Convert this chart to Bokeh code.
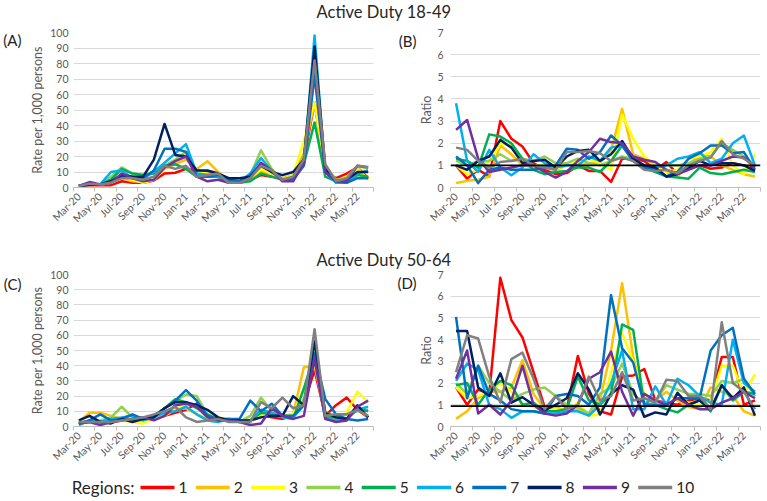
import math
from bokeh.plotting import figure
from bokeh.layouts import column, row
from bokeh.models import Range1d, FixedTicker, Span, LinearAxis
from bokeh.embed import file_html
from bokeh.resources import INLINE
from bokeh.core.properties import value

FONT = "Lato"

months = ["Mar-20", "Apr-20", "May-20", "Jun-20", "Jul-20", "Aug-20", "Sep-20", "Oct-20",
          "Nov-20", "Dec-20", "Jan-21", "Feb-21", "Mar-21", "Apr-21", "May-21", "Jun-21",
          "Jul-21", "Aug-21", "Sep-21", "Oct-21", "Nov-21", "Dec-21", "Jan-22", "Feb-22",
          "Mar-22", "Apr-22", "May-22", "Jun-22"]
regions = ["1", "2", "3", "4", "5", "6", "7", "8", "9", "10"]
colors = ["#FF0000", "#FFC000", "#FFFF00", "#92D050", "#00B050",
          "#00B0F0", "#0070C0", "#002060", "#7030A0", "#808080"]

title_top = "Active Duty 18-49"
title_bottom = "Active Duty 50-64"

# (A) Active Duty 18-49: rate per 1,000 persons, one list per region
rate_18_49 = [
    [1, 1.5, 1.5, 1.5, 4, 3, 3, 4.5, 9, 9.5, 12, 11, 10, 8, 4, 3, 5, 8, 7, 6, 6, 18, 55, 10, 6, 9, 13, 6],
    [1, 2, 2, 4, 6, 4, 3.5, 5, 12, 15, 18, 12, 17, 10, 4, 3, 5, 10, 9, 6, 8, 22, 55, 12, 4, 7, 13, 5],
    [1, 2, 2, 3, 6, 5, 3, 5, 14, 17, 22, 10, 9, 8, 3, 3, 6, 12, 9, 5, 8, 30, 55, 12, 4, 7, 12, 5],
    [1, 2, 2, 7, 13, 9, 8, 10, 14, 18, 23, 9, 8, 9, 4, 3, 8, 24, 12, 5, 7, 20, 75, 14, 5, 6, 14, 12],
    [1, 2, 2, 5, 12, 9, 8, 9, 14, 15, 12, 7, 7, 7, 3, 3, 4, 9, 7, 5, 6, 15, 42, 7, 4, 4, 8, 7],
    [1, 2, 2, 10, 11, 6, 6, 10, 16, 22, 28, 9, 8, 7, 5, 4, 9, 19, 11, 5, 5, 15, 98, 10, 3, 3, 9, 11],
    [1, 2, 2, 4, 7, 7, 6, 11, 25, 25, 23, 7, 7, 8, 5, 4, 8, 15, 10, 5, 5, 14, 72, 10, 4, 3, 6, 6],
    [1, 2, 2, 4, 8, 7, 7, 18, 41, 21, 20, 11, 11, 9, 6, 6, 7, 14, 10, 8, 10, 18, 91, 12, 4, 5, 10, 10],
    [1, 3.5, 2, 3, 9, 6, 4, 5, 13, 17, 20, 7, 4, 5, 3, 3, 6, 16, 11, 4, 4, 16, 82, 10, 4, 4, 14, 13],
    [1, 2.5, 2, 3, 6, 6, 5, 7, 14, 12, 14, 7, 8, 9, 3, 3, 6, 14, 11, 5, 7, 18, 82, 15, 4, 6, 14, 13],
]

# (B) Active Duty 18-49: ratio
ratio_18_49 = [
    [1.0, 0.4, 0.8, 0.5, 3.0, 2.2, 1.85, 1.1, 0.8, 0.6, 0.65, 1.0, 0.75, 0.75, 0.25, 1.3, 1.3, 1.2, 0.8, 1.15, 0.6, 0.85, 1.0, 0.85, 0.9, 1.1, 1.0, 0.9],
    [0.2, 0.3, 0.35, 0.5, 1.9, 1.5, 1.0, 0.9, 0.9, 0.8, 1.0, 1.0, 1.1, 1.1, 1.7, 3.55, 1.5, 1.3, 1.0, 0.7, 0.5, 1.0, 1.5, 1.4, 1.0, 0.8, 0.6, 0.5],
    [1.0, 0.6, 0.8, 1.2, 2.0, 1.9, 1.2, 1.0, 1.0, 0.8, 1.1, 1.1, 1.3, 1.1, 0.8, 3.3, 2.2, 1.4, 1.0, 0.7, 0.8, 1.3, 1.4, 1.6, 2.2, 1.0, 0.6, 1.5],
    [1.2, 1.0, 1.2, 1.2, 1.5, 1.2, 1.3, 1.2, 1.4, 1.1, 1.1, 1.3, 1.1, 1.0, 1.2, 1.4, 1.3, 1.0, 0.9, 1.0, 1.0, 1.1, 1.3, 1.4, 2.0, 1.7, 1.4, 1.0],
    [1.3, 1.2, 0.9, 2.4, 2.3, 2.0, 1.3, 0.8, 0.6, 0.7, 0.75, 0.9, 0.9, 0.7, 1.2, 1.9, 1.3, 0.9, 0.7, 0.5, 0.45, 0.4, 0.9, 0.65, 0.6, 0.7, 0.8, 0.7],
    [3.8, 1.2, 0.7, 1.7, 0.9, 0.55, 0.9, 1.5, 1.1, 0.9, 1.0, 1.0, 1.4, 1.2, 1.8, 1.9, 1.2, 1.0, 0.9, 1.0, 1.3, 1.4, 1.6, 1.1, 1.3, 2.0, 2.35, 1.0],
    [1.4, 1.0, 0.2, 0.8, 0.9, 0.8, 0.8, 0.8, 0.9, 1.0, 1.75, 1.7, 1.3, 1.6, 2.35, 1.9, 1.2, 0.9, 0.8, 0.5, 0.7, 1.3, 1.55, 1.9, 1.9, 1.55, 1.6, 0.8],
    [1.0, 0.8, 1.2, 1.4, 2.15, 1.8, 1.1, 1.2, 1.25, 0.9, 1.4, 1.65, 1.7, 1.2, 1.5, 2.1, 1.3, 1.0, 0.9, 0.5, 0.6, 0.9, 1.2, 1.0, 1.1, 1.1, 1.0, 0.75],
    [2.6, 3.05, 1.3, 0.7, 0.8, 0.9, 1.0, 1.0, 0.7, 0.45, 0.7, 1.2, 1.6, 2.2, 2.05, 2.0, 1.4, 1.25, 1.15, 0.8, 0.6, 0.8, 1.0, 1.0, 1.2, 1.4, 1.35, 0.9],
    [1.8, 1.7, 1.2, 0.9, 1.15, 1.2, 1.3, 1.0, 0.9, 0.8, 1.6, 1.6, 1.65, 1.55, 1.2, 1.35, 1.2, 0.8, 0.75, 0.8, 0.65, 1.0, 1.2, 1.35, 2.1, 1.5, 1.3, 1.0],
]

# (C) Active Duty 50-64: rate per 1,000 persons
rate_50_64 = [
    [2, 4, 3, 3, 4, 4, 5, 5, 7, 9, 11, 15, 6, 5, 4, 4, 3, 8, 6, 5, 7, 15, 37, 7, 14, 19, 11, 6],
    [3, 9, 9, 7, 5, 4, 4, 5, 7, 11, 12, 8, 5, 5, 5, 3, 4, 8, 7, 7, 8, 39, 40, 8, 6, 8, 12, 6],
    [2, 3, 3, 4, 4, 3, 2, 5, 8, 12, 13, 8, 5, 6, 5, 4, 3, 7, 8, 7, 8, 25, 45, 9, 5, 9, 23, 16],
    [2, 3, 4, 6, 13, 6, 6, 7, 12, 17, 21, 20, 8, 5, 4, 3, 7, 19, 10, 7, 6, 18, 50, 9, 7, 8, 10, 11],
    [2, 3, 3, 4, 5, 4, 5, 7, 12, 18, 16, 12, 8, 4, 4, 3, 4, 9, 8, 6, 5, 25, 48, 6, 6, 5, 12, 10],
    [1, 4, 3, 5, 6, 7, 4, 6, 9, 10, 13, 8, 4, 3, 5, 4, 4, 11, 9, 6, 6, 14, 44, 5, 4, 5, 11, 13],
    [2, 4, 8, 4, 5, 8, 5, 6, 12, 17, 24, 17, 7, 5, 5, 5, 17, 10, 15, 7, 7, 14, 48, 18, 8, 5, 4, 5],
    [4, 7, 3, 2, 5, 3, 5, 6, 12, 16, 16, 14, 11, 6, 4, 4, 4, 6, 7, 7, 20, 14, 56, 9, 6, 5, 14, 6],
    [2, 3, 1, 3, 4, 5, 6, 4, 7, 14, 15, 13, 6, 4, 4, 3, 1, 2, 12, 7, 5, 7, 45, 5, 3, 4, 13, 17],
    [3, 3, 3, 3, 4, 5, 6, 8, 10, 13, 6, 3, 4, 5, 3, 3, 3, 16, 12, 19, 12, 14, 64, 7, 8, 8, 11, 7],
]

# (D) Active Duty 50-64: ratio
ratio_50_64 = [
    [1.8, 1.0, 1.7, 1.5, 6.85, 4.9, 4.1, 2.5, 0.9, 0.7, 0.8, 3.25, 1.5, 0.7, 0.55, 2.3, 2.35, 2.65, 1.2, 1.1, 1.0, 1.2, 1.3, 1.2, 3.2, 3.2, 1.0, 1.2],
    [0.35, 0.7, 1.3, 1.6, 1.6, 1.8, 3.05, 1.5, 0.8, 0.9, 0.7, 0.8, 0.6, 1.2, 3.5, 6.6, 3.2, 1.3, 1.2, 1.6, 1.2, 0.9, 0.8, 1.8, 1.6, 1.4, 0.7, 0.5],
    [1.8, 1.3, 1.4, 1.6, 2.0, 1.6, 1.0, 0.9, 0.7, 0.8, 0.7, 1.1, 0.5, 0.55, 2.5, 4.3, 3.0, 1.5, 1.2, 1.0, 1.3, 1.1, 1.0, 1.2, 2.8, 2.8, 1.5, 2.4],
    [2.0, 1.5, 2.8, 2.0, 1.6, 1.2, 1.5, 1.7, 1.8, 1.4, 1.0, 0.9, 0.6, 1.5, 1.8, 2.9, 1.5, 1.1, 1.2, 1.9, 1.7, 1.5, 1.5, 1.4, 2.1, 2.0, 2.2, 1.4],
    [1.9, 2.0, 1.0, 1.7, 2.1, 1.9, 1.0, 1.1, 0.7, 0.7, 0.8, 2.3, 1.2, 1.0, 1.5, 4.7, 4.45, 1.0, 1.0, 0.8, 0.65, 1.0, 1.2, 0.7, 1.9, 1.2, 1.6, 1.5],
    [2.1, 2.9, 2.6, 1.0, 0.8, 0.4, 0.7, 0.7, 0.6, 0.6, 0.7, 0.7, 0.5, 1.0, 2.0, 3.5, 0.8, 0.8, 1.85, 1.0, 2.2, 1.9, 1.4, 1.1, 1.0, 4.0, 2.0, 1.6],
    [5.05, 1.3, 2.8, 1.5, 1.2, 0.8, 0.7, 0.7, 0.6, 1.4, 1.5, 1.4, 1.0, 1.8, 6.05, 3.6, 2.95, 1.0, 1.0, 1.0, 1.3, 1.3, 1.3, 3.5, 4.2, 4.55, 2.2, 1.5],
    [4.4, 4.4, 1.8, 1.4, 2.45, 1.1, 1.35, 1.0, 0.75, 1.0, 1.3, 2.45, 1.7, 0.55, 1.5, 1.9, 1.7, 0.45, 0.65, 0.55, 1.55, 1.0, 1.2, 0.8, 1.9, 1.3, 1.8, 0.5],
    [2.2, 3.5, 0.6, 1.0, 0.55, 1.2, 2.8, 1.0, 0.6, 0.5, 0.6, 1.0, 2.2, 2.5, 3.45, 1.6, 0.5, 1.5, 1.2, 1.0, 1.3, 1.0, 0.8, 0.8, 1.1, 1.3, 1.6, 1.3],
    [2.5, 4.2, 4.05, 2.3, 1.1, 3.1, 3.4, 2.2, 0.8, 1.4, 0.8, 1.0, 2.3, 1.2, 1.4, 2.5, 1.2, 1.3, 1.1, 2.15, 2.1, 1.4, 1.4, 0.8, 4.8, 2.0, 1.6, 0.8],
]

ref_ratio_B = 1.0
ref_ratio_D = 0.94

GRID = "#D9D9D9"
AXTXT = "#595959"


def panel(series, ymax, ystep, ylabel, tag, tag_y, width, height, top, bottom,
          lab_standoff, axlab_standoff, tag_standoff, ref=None):
    n = len(months)
    p = figure(width=width, height=height, output_backend="svg", toolbar_location=None,
               x_range=Range1d(-0.5, n - 0.5), y_range=Range1d(0, ymax),
               min_border_left=70, min_border_right=7,
               min_border_top=top, min_border_bottom=bottom)
    p.outline_line_color = None
    p.background_fill_color = "white"
    p.border_fill_color = "white"
    # x axis: labels on every second month, tick marks between categories
    xa = p.xaxis[0]
    xa.ticker = FixedTicker(ticks=list(range(0, n, 2)),
                            minor_ticks=[i - 0.5 for i in range(0, n + 1, 2)])
    xa.major_label_overrides = {i: months[i] for i in range(0, n, 2)}
    xa.major_label_orientation = math.pi / 4
    xa.major_tick_out = 0
    xa.major_tick_in = 0
    xa.minor_tick_out = 4
    xa.minor_tick_in = 0
    xa.minor_tick_line_color = "#BFBFBF"
    xa.axis_line_color = "#BFBFBF"
    xa.major_label_text_font = FONT
    xa.major_label_text_font_size = "10.5px"
    xa.major_label_text_color = AXTXT
    xa.major_label_standoff = 3
    # y axis
    ya = p.yaxis[0]
    yt = FixedTicker(ticks=[v for v in range(0, ymax + 1, ystep)])
    ya.ticker = yt
    ya.axis_line_color = None
    ya.major_tick_line_color = None
    ya.minor_tick_line_color = None
    ya.major_tick_out = 0
    ya.major_label_text_font = FONT
    ya.major_label_text_font_size = "10.5px"
    ya.major_label_text_color = AXTXT
    ya.major_label_standoff = lab_standoff
    ya.axis_label = ylabel
    ya.axis_label_text_font = FONT
    ya.axis_label_text_font_size = "12.5px"
    ya.axis_label_text_font_style = "normal"
    ya.axis_label_text_color = AXTXT
    ya.axis_label_standoff = axlab_standoff
    p.xgrid.visible = False
    p.ygrid.ticker = yt
    p.ygrid.grid_line_color = GRID
    p.ygrid.grid_line_width = 1
    x = list(range(n))
    for vals, c in zip(series, colors):
        p.line(x, vals, line_color=c, line_width=2.5, line_join="round")
    if ref is not None:
        p.add_layout(Span(location=ref, dimension="width", line_color="black", line_width=1.6))
    # panel tag, drawn as the single label of an outer left axis
    tag_axis = LinearAxis(ticker=FixedTicker(ticks=[tag_y]),
                          major_label_overrides={tag_y: tag},
                          axis_line_color=None, major_tick_line_color=None,
                          minor_tick_line_color=None, major_tick_out=0, major_tick_in=0,
                          major_label_text_font=FONT, major_label_text_font_size="15px",
                          major_label_text_color="#222222",
                          major_label_standoff=tag_standoff)
    p.add_layout(tag_axis, "left")
    return p


def title_strip(text, height, cy):
    p = figure(width=767, height=height, output_backend="svg", toolbar_location=None,
               x_range=Range1d(0, 767), y_range=Range1d(0, height),
               x_axis_type=None, y_axis_type=None, min_border=0)
    p.outline_line_color = None
    p.grid.visible = False
    p.text(x=[383.5], y=[height - cy], text=[text], text_font=value(FONT),
           text_font_size="16.5px", text_color="#262626", text_align="center",
           text_baseline="middle")
    return p


a_w, b_w = 380, 387
row1_h, row2_h = 222, 200

pA = panel(rate_18_49, 100, 10, "Rate per 1,000 persons", "(A)", 95.0, a_w, row1_h, 10, 57,
           5, 2, 6)
pB = panel(ratio_18_49, 7, 1, "Ratio", "(B)", 6.6, b_w, row1_h, 10, 57,
           7, 0, 0, ref=ref_ratio_B)
pC = panel(rate_50_64, 100, 10, "Rate per 1,000 persons", "(C)", 94.0, a_w, row2_h, 4, 40,
           5, 2, 6)
pD = panel(ratio_50_64, 7, 1, "Ratio", "(D)", 6.6, b_w, row2_h, 4, 40,
           7, 0, 0, ref=ref_ratio_D)

t1 = title_strip(title_top, 22, 11.5)
t2 = title_strip(title_bottom, 26, 15)

# legend strip
lh = 31
lg = figure(width=767, height=lh, output_backend="svg", toolbar_location=None,
            x_range=Range1d(0, 767), y_range=Range1d(0, lh),
            x_axis_type=None, y_axis_type=None, min_border=0)
lg.outline_line_color = None
lg.grid.visible = False
ly = lh - 17
lg.text(x=[134], y=[ly], text=["Regions:"], text_font=value(FONT), text_font_size="17px",
        text_color="#262626", text_align="right", text_baseline="middle")
step = 55.3
x0s = [140 + k * step for k in range(len(regions))]
lg.segment(x0=x0s, y0=[ly] * len(regions), x1=[x + 34 for x in x0s], y1=[ly] * len(regions),
           line_color=colors, line_width=3.5)
lg.text(x=[x + 38 for x in x0s], y=[ly] * len(regions), text=regions, text_font=value(FONT),
        text_font_size="15.5px", text_color="#262626", text_align="left", text_baseline="middle")

layout = column(t1, row(pA, pB), t2, row(pC, pD), lg)

open("out.html", "w").write(file_html(layout, INLINE))
